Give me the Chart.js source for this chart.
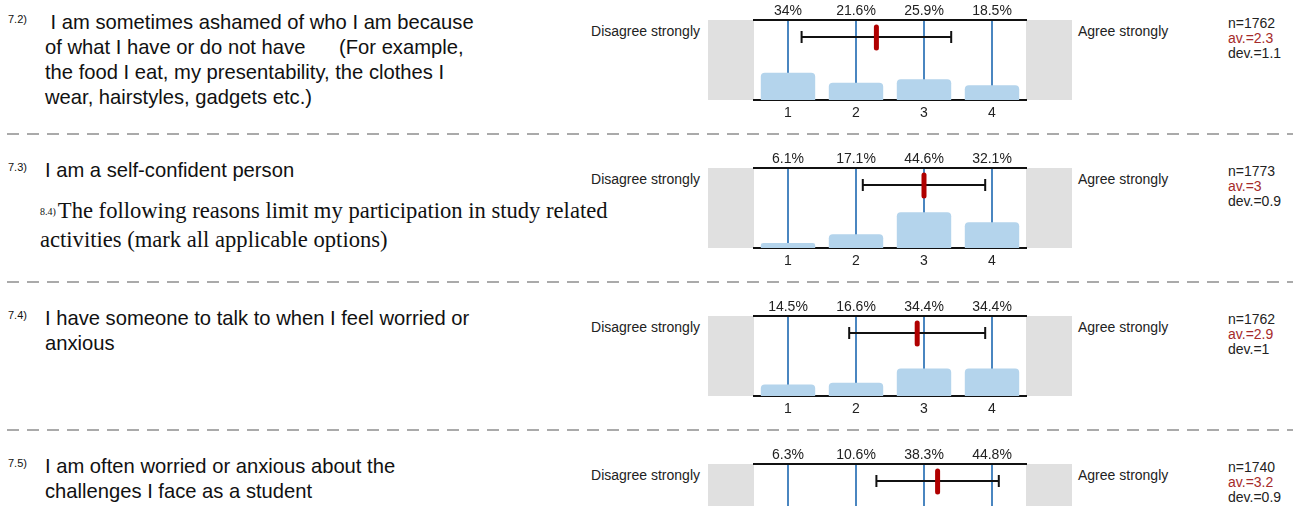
<!DOCTYPE html>
<html>
<head>
<meta charset="utf-8">
<script src="https://cdn.jsdelivr.net/npm/chart.js@4/dist/chart.umd.min.js"></script>
<style>
  body { margin: 0; width: 1293px; height: 506px; overflow: hidden; background: #fff;
         font-family: "Liberation Sans", Arial, sans-serif; color: #111; position: relative; }
  .abs { position: absolute; white-space: pre; }
  .qid { font-size: 11px; }
  .q { font-size: 20.2px; line-height: 25px; }
  .side { font-size: 14px; line-height: 16px; color: #222; }
  .stats { font-size: 14px; line-height: 15px; color: #222; }
  .stats .av { color: #a52a2a; }
  .sep { position: absolute; left: 7px; width: 1286px; height: 2px;
         background: repeating-linear-gradient(to right, #aaa 0 12px, transparent 12px 20px); }
  .serif { font-family: "Liberation Serif", "DejaVu Serif", serif; font-size: 22.6px; line-height: 25px; }
  .serif .sid { font-size: 10px; position: relative; top: -3px; margin-right: 2px; }
  canvas { position: absolute; }
</style>
</head>
<body>
<script>
// survey items
const questionIds = ["7.2)", "7.3)", "7.4)", "7.5)"];
const questionLines = [
  [" I am sometimes ashamed of who I am because", "of what I have or do not have      (For example,", "the food I eat, my presentability, the clothes I", "wear, hairstyles, gadgets etc.)"],
  ["I am a self-confident person"],
  ["I have someone to talk to when I feel worried or", "anxious"],
  ["I am often worried or anxious about the", "challenges I face as a student"]
];
const scaleValues = [1, 2, 3, 4];
const leftLabel = "Disagree strongly";
const rightLabel = "Agree strongly";
const pct72 = [34, 21.6, 25.9, 18.5];
const pct73 = [6.1, 17.1, 44.6, 32.1];
const pct74 = [14.5, 16.6, 34.4, 34.4];
const pct75 = [6.3, 10.6, 38.3, 44.8];
const counts = [1762, 1773, 1762, 1740];
const means = [2.3, 3, 2.9, 3.2];
const devs = [1.1, 0.9, 1, 0.9];
const overlayId = "8.4)";
const overlayLines = ["The following reasons limit my participation in study related", "activities (mark all applicable options)"];

const allPct = [pct72, pct73, pct74, pct75];
const blockStep = 148;

function addDiv(cls, html, x, y) {
  let d = document.createElement("div");
  d.className = cls;
  d.innerHTML = html;
  d.style.left = x + "px";
  d.style.top = y + "px";
  document.body.appendChild(d);
  return d;
}

// gray side boxes behind the plot
const sideBoxes = {
  id: "sideBoxes",
  beforeDraw(chart) {
    let a = chart.chartArea, ctx = chart.ctx;
    ctx.save();
    ctx.fillStyle = "#e0e0e0";
    ctx.fillRect(0, a.top, a.left, a.bottom - a.top);
    ctx.fillRect(a.right, a.top, chart.width - a.right, a.bottom - a.top);
    ctx.restore();
  }
};

// mean +- deviation marker
const errorBar = {
  id: "errorBar",
  afterDraw(chart, args, opts) {
    let x = chart.scales.x, a = chart.chartArea, ctx = chart.ctx;
    let y = a.top + 17;
    let x0 = x.getPixelForValue(opts.mean - opts.dev);
    let x1 = x.getPixelForValue(opts.mean + opts.dev);
    let xm = x.getPixelForValue(opts.mean);
    ctx.save();
    ctx.strokeStyle = "#111";
    ctx.lineWidth = 2;
    ctx.beginPath();
    ctx.moveTo(x0, y); ctx.lineTo(x1, y);
    ctx.moveTo(x0, y - 6); ctx.lineTo(x0, y + 6);
    ctx.moveTo(x1, y - 6); ctx.lineTo(x1, y + 6);
    ctx.stroke();
    ctx.strokeStyle = "#b00000";
    ctx.lineWidth = 5;
    ctx.lineCap = "round";
    ctx.beginPath();
    ctx.moveTo(xm, a.top + 7); ctx.lineTo(xm, a.top + 28);
    ctx.stroke();
    ctx.restore();
  }
};

const fixTicks = s => { s.ticks = scaleValues.map(v => ({ value: v })); };

for (let i = 0; i < 4; i++) {
  let top = 20 + i * blockStep;
  let textTop = 10 + i * blockStep;

  addDiv("abs qid", questionIds[i], 8, textTop + 3);
  addDiv("abs q", questionLines[i].join("\n"), 45, textTop);
  addDiv("abs side", leftLabel, 0, top + 3).style.cssText += "left:auto;right:" + (1293 - 700) + "px;";
  addDiv("abs side", rightLabel, 1078, top + 3);
  addDiv("abs stats", "n=" + counts[i] + "\n<span class=\"av\">av.=" + means[i] + "</span>\ndev.=" + devs[i], 1228, top - 4);

  if (i > 0) {
    let s = document.createElement("div");
    s.className = "sep";
    s.style.top = (133 + (i - 1) * blockStep) + "px";
    document.body.appendChild(s);
  }

  let cv = document.createElement("canvas");
  cv.width = 364; cv.height = 125;
  cv.style.left = "708px";
  cv.style.top = (top - 20) + "px";
  document.body.appendChild(cv);

  let pct = allPct[i];
  new Chart(cv.getContext("2d"), {
    type: "bar",
    data: {
      datasets: [{
        data: scaleValues.map((v, k) => ({ x: v, y: pct[k] })),
        backgroundColor: "#b4d4ec",
        borderRadius: { topLeft: 4, topRight: 4 },
        borderSkipped: "bottom",
        barPercentage: 0.8,
        categoryPercentage: 1
      }]
    },
    options: {
      responsive: false,
      devicePixelRatio: 1,
      animation: false,
      layout: { padding: { left: 46, right: 46, top: 0, bottom: 0 } },
      plugins: {
        legend: { display: false },
        tooltip: { enabled: false },
        errorBar: { mean: means[i], dev: devs[i] }
      },
      scales: {
        x: {
          type: "linear", position: "bottom", min: 0.5, max: 4.5, z: 1, offset: false,
          afterBuildTicks: fixTicks,
          afterFit: s => { s.height = 25; },
          grid: { color: "#4a86c0", lineWidth: 2, drawTicks: false, offset: false },
          border: { color: "#111", width: 2 },
          ticks: { color: "#222", font: { family: "Liberation Sans", size: 14 }, padding: 5,
                   callback: v => String(v) }
        },
        x2: {
          type: "linear", position: "top", min: 0.5, max: 4.5, offset: false,
          afterBuildTicks: fixTicks,
          afterFit: s => { s.height = 20; },
          grid: { display: false, drawTicks: false, offset: false },
          border: { color: "#111", width: 2 },
          ticks: { color: "#222", font: { family: "Liberation Sans", size: 14 }, padding: 0,
                   callback: v => pct[v - 1] + "%" }
        },
        y: { min: 0, max: 100, display: false }
      }
    },
    plugins: [sideBoxes, errorBar]
  });
}

addDiv("abs serif", "<span class=\"sid\">" + overlayId + "</span>" + overlayLines.join("\n"), 40, 198);
</script>
</body>
</html>
